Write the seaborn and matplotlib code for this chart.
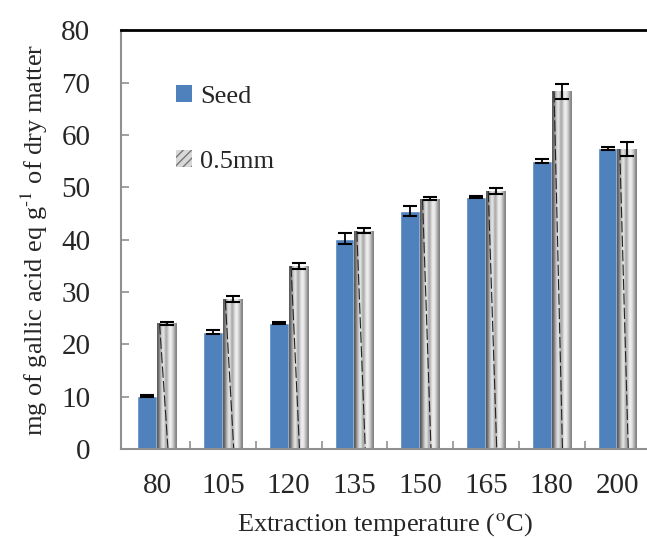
import matplotlib
matplotlib.use('Agg')
import matplotlib.pyplot as plt
from matplotlib.patches import Patch
import seaborn as sns
import numpy as np
import pandas as pd

temps = ['80', '105', '120', '135', '150', '165', '180', '200']
seed = [10.2, 22.3, 24.0, 40.2, 45.5, 48.2, 55.0, 57.4]
seed_err = [0.2, 0.4, 0.2, 1.0, 1.0, 0.2, 0.4, 0.2]
mm05 = [24.0, 28.6, 35.0, 41.7, 47.8, 49.3, 68.3, 57.3]
mm05_err = [0.3, 0.6, 0.6, 0.5, 0.3, 0.6, 1.5, 1.4]
groups = ['Seed', '0.5mm']

df = pd.DataFrame({
    'temp': temps * 2,
    'value': seed + mm05,
    'sample': ['Seed'] * len(temps) + ['0.5mm'] * len(temps),
})

sns.set_style('white')
plt.rcParams['font.family'] = ['Liberation Serif', 'DejaVu Serif']
plt.rcParams['mathtext.fontset'] = 'stix'

fig = plt.figure(figsize=(6.47, 5.39), dpi=100)
ax = fig.add_axes([0.187, 0.167, 0.815, 0.777])

sns.barplot(data=df, x='temp', y='value', hue='sample', order=temps,
            hue_order=groups, errorbar=None, width=0.6,
            palette=['#4F81BD', '#c8c8c8'], saturation=1, ax=ax)

# cylinder-like gray shading for the 0.5mm bars
shade = np.array([[0.35, 0.6, 0.85, 0.92, 0.6, 0.8, 0.97, 0.88, 0.72, 0.5]])
for bar in ax.containers[1]:
    x0, w, h = bar.get_x(), bar.get_width(), bar.get_height()
    im = ax.imshow(shade, extent=[x0, x0 + w, 0, h], aspect='auto',
                   cmap='gray', vmin=0, vmax=1, interpolation='bicubic',
                   zorder=bar.get_zorder() + 0.1)
    im.set_clip_path(bar)
    ln, = ax.plot([x0 + 0.12 * w, x0 + 0.55 * w], [h, 0], color='#222222',
                  lw=0.8, ls=(0, (10, 3)), zorder=bar.get_zorder() + 0.2)
    ln.set_clip_path(bar)

for cont, err in zip(ax.containers[:2], [seed_err, mm05_err]):
    xs = [b.get_x() + b.get_width() / 2 for b in cont]
    hs = [b.get_height() for b in cont]
    ax.errorbar(xs, hs, yerr=err, fmt='none', ecolor='black',
                elinewidth=1.3, capsize=5, capthick=1.5, zorder=5)

ax.set_xlim(-0.55, 7.47)
ax.set_ylim(0, 80)
ax.set_yticks(np.arange(0, 81, 10))
ax.set_xticks(np.arange(0.5, 7.0, 1.0), minor=True)
ax.tick_params(axis='x', which='major', length=0, pad=17, labelsize=21)
ax.tick_params(axis='x', which='minor', direction='in', length=6,
               color='#909090', width=1.2, bottom=True)
ax.tick_params(axis='y', direction='in', length=6, color='#909090',
               width=1.2, pad=22, labelsize=21, left=True)

for s in ['left', 'bottom']:
    ax.spines[s].set_color('#909090')
    ax.spines[s].set_linewidth(1.5)
ax.spines['top'].set_color('black')
ax.spines['top'].set_linewidth(2)
ax.spines['right'].set_visible(False)

ax.set_xlabel(r'Extraction temperature ($^{\text{o}}$C)', fontsize=19,
              labelpad=9)
ax.set_ylabel(r'mg of gallic acid eq g$^{\text{-1}}$ of dry matter',
              fontsize=19, labelpad=8)

handles = [Patch(facecolor='#4F81BD', edgecolor='none'),
           Patch(facecolor='#d8d8d8', edgecolor='#777777', hatch='////', lw=0)]
ax.legend(handles, groups, loc='upper left', bbox_to_anchor=(0.08, 0.90),
          frameon=False, fontsize=19, handlelength=0.6, handleheight=0.6,
          handletextpad=0.3, labelspacing=1.6, borderpad=0)

fig.savefig('out.png', dpi=100)
